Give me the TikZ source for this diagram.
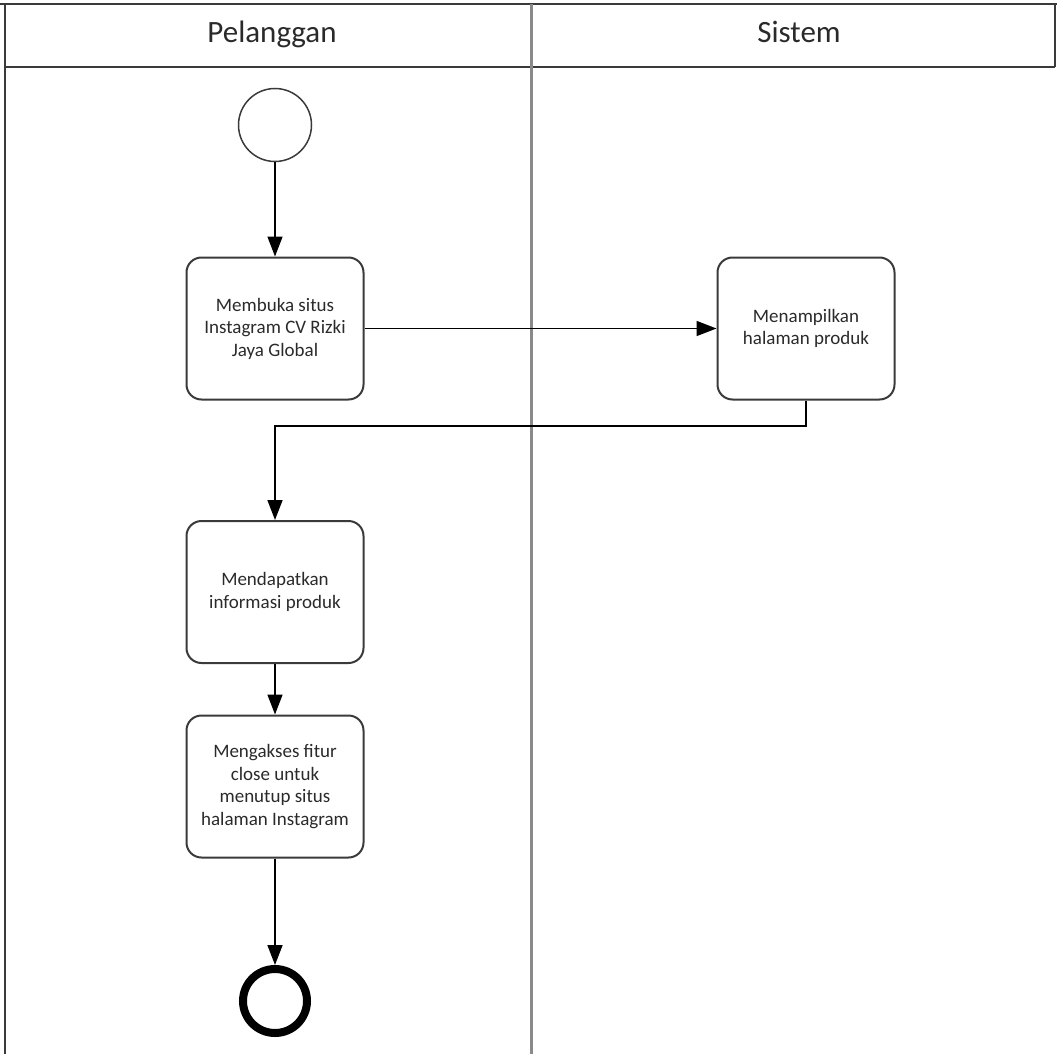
\documentclass[tikz,border=0pt]{standalone}
\usepackage{fontspec}
\setmainfont{Carlito}
\usetikzlibrary{arrows.meta}
\definecolor{txt}{HTML}{2A2A2A}
\definecolor{boxline}{HTML}{3A3A3A}
\definecolor{lane}{HTML}{8A8A8A}
\tikzset{
  task/.style={draw=boxline, line width=2pt, rounded corners=15pt, minimum width=177pt,
    minimum height=142pt, align=center, text=txt, font=\fontsize{19}{22.5}\selectfont, inner sep=2pt},
  startev/.style={circle, draw=boxline, line width=1.5pt, minimum size=73pt, inner sep=0pt},
  endev/.style={circle, draw=black, line width=8pt, minimum size=64pt, inner sep=0pt},
  flow/.style={draw=black, line width=1.6pt, -{Triangle[length=20pt,width=15pt]}},
  hdr/.style={text=txt, font=\fontsize{31}{36}\selectfont, anchor=base},
  frame/.style={draw=boxline, line width=2pt},
}
\begin{document}
\begin{tikzpicture}[x=1pt,y=-1pt]
\useasboundingbox (0,0) rectangle (1057,1054);
% lanes
\draw[frame] (0,4) -- (1057,4);
\draw[frame] (5,67) -- (1055,67);
\draw[frame] (5,4) -- (5,1054);
\draw[frame] (1055,4) -- (1055,67);
\draw[draw=lane, line width=3pt] (531,4) -- (531,1054);
\node[hdr] (h1) at (272,43) {Pelanggan};
\node[hdr] (h2) at (799,43) {Sistem};
% nodes
\node[startev] (s) at (275,125) {};
\node[task] (b1) at (275,328.5) {Membuka situs\\Instagram CV Rizki\\Jaya Global};
\node[task] (b2) at (806,328.5) {Menampilkan\\halaman produk};
\node[task] (b3) at (275,592) {Mendapatkan\\informasi produk};
\node[task] (b4) at (275,786.5) {Mengakses fitur\\close untuk\\menutup situs\\halaman Instagram};
\node[endev] (e) at (275,1001) {};
\coordinate (bend) at (806,426);
% flows
\draw[flow] (s) -- (b1);
\draw[flow] (b1) -- (b2);
\draw[flow] (b2.south) -- (bend) -| (b3.north);
\draw[flow] (b3) -- (b4);
\draw[flow] (b4) -- (e);
\end{tikzpicture}
\end{document}
